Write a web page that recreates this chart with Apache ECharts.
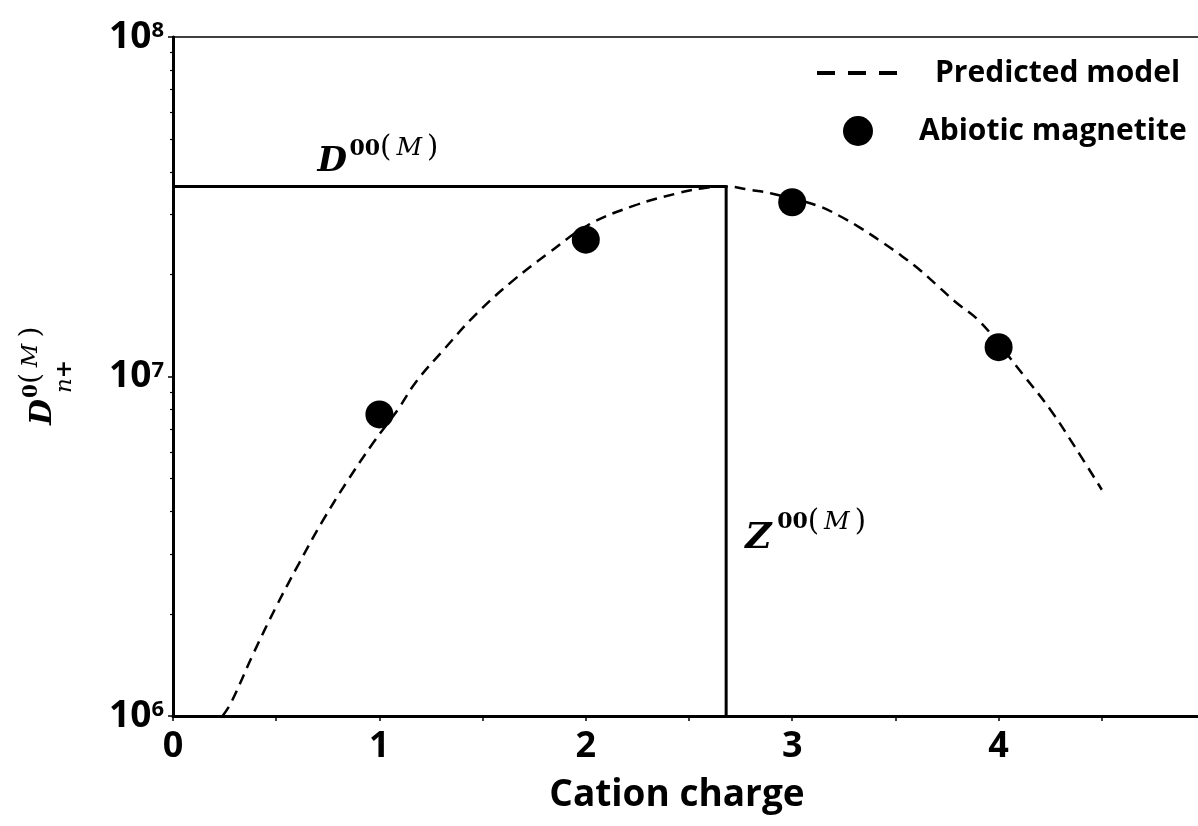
<!DOCTYPE html>
<html><head><meta charset="utf-8">
<script src="https://cdn.jsdelivr.net/npm/echarts@6/dist/echarts.min.js"></script>
<style>html,body{margin:0;padding:0;background:#fff}#c{width:1198px;height:826px}</style>
</head><body><div id="c"></div>
<script>
// ---- data ----
const modelX = [0.24, 0.28, 0.39, 0.50, 0.61, 0.72, 0.84, 0.97, 1.09, 1.18, 1.32, 1.47, 1.64, 1.82, 2.01, 2.23, 2.44, 2.56, 2.68, 2.79, 2.90, 3.12, 3.23, 3.33, 3.43, 3.52, 3.61, 3.70, 3.79, 3.90, 4.00, 4.12, 4.25, 4.37, 4.50];
const modelY = [1.00e6, 1.09e6, 1.53e6, 2.10e6, 2.81e6, 3.71e6, 4.87e6, 6.38e6, 8.00e6, 9.69e6, 1.215e7, 1.53e7, 1.90e7, 2.31e7, 2.79e7, 3.18e7, 3.46e7, 3.58e7, 3.63e7, 3.55e7, 3.46e7, 3.19e7, 2.97e7, 2.74e7, 2.50e7, 2.29e7, 2.08e7, 1.86e7, 1.66e7, 1.47e7, 1.25e7, 1.01e7, 8.00e6, 6.20e6, 4.64e6];
const pointX = [1, 2, 3, 4];
const pointY = [7.73e6, 2.53e7, 3.26e7, 1.22e7];
const peakX = 2.68;
const peakY = 3.63e7;
const xTickLabels = ['0', '1', '2', '3', '4'];
const yMinorTicks = [2e6, 3e6, 4e6, 5e6, 6e6, 7e6, 8e6, 9e6, 2e7, 3e7, 4e7, 5e7, 6e7, 7e7, 8e7, 9e7];
const seriesNames = ['Predicted model', 'Abiotic magnetite'];
const xName = 'Cation charge';

const SANS = '"Open Sans", "Noto Sans", sans-serif';
const SERIF = '"DejaVu Serif", "Liberation Serif", serif';

const chart = echarts.init(document.getElementById('c'), null, {renderer: 'canvas'});

const option = {
  animation: false,
  backgroundColor: '#fff',
  grid: {
    left: 173, top: 37, right: -7, bottom: 110,
    show: true, borderColor: '#000', borderWidth: 1.5,
    outerBoundsMode: 'none', containLabel: false
  },
  legend: {
    orient: 'vertical', left: 815, top: 58, padding: 0,
    itemWidth: 82, itemHeight: 30, itemGap: 28,
    selectedMode: false,
    textStyle: {fontFamily: SANS, fontSize: 30, fontWeight: 'bold', color: '#000'},
    data: [
      {name: seriesNames[0], lineStyle: {type: [18, 13], width: 4, color: '#000'},
       itemStyle: {color: 'rgba(0,0,0,0)', borderWidth: 0, opacity: 0},
       textStyle: {padding: [0, 0, 0, 31]}},
      {name: seriesNames[1], icon: 'circle', itemStyle: {color: '#000', opacity: 1}, textStyle: {padding: [0, 0, 0, 15]}}
    ]
  },
  xAxis: {
    type: 'value', min: 0, max: 5, interval: 0.5,
    name: xName, nameLocation: 'middle', nameGap: 61,
    nameTextStyle: {fontFamily: SANS, fontSize: 37, fontWeight: 'bold', color: '#000', padding: [0, 24, 0, 0]},
    axisLine: {show: true, onZero: false, lineStyle: {color: '#000', width: 3}},
    axisTick: {show: true, inside: false, length: 5, lineStyle: {color: '#000', width: 1.5}},
    axisLabel: {
      margin: 13, color: '#000', fontFamily: SANS, fontSize: 36, fontWeight: 'bold',
      formatter: v => (Number.isInteger(v) && xTickLabels[v] !== undefined) ? xTickLabels[v] : ''
    },
    splitLine: {show: false}
  },
  yAxis: [
    {
      type: 'log', logBase: 10, min: 1e6, max: 1e8,
      axisLine: {show: true, onZero: false, lineStyle: {color: '#000', width: 3}},
      axisTick: {show: true, inside: false, length: 5, lineStyle: {color: '#000', width: 1.5}},
      axisLabel: {
        margin: 9, color: '#000',
        formatter: v => '{b|10}{s|' + Math.round(Math.log10(v)) + '}',
        rich: {
          b: {fontFamily: SANS, fontSize: 37, fontWeight: 'bold', color: '#000', lineHeight: 42},
          s: {fontFamily: SANS, fontSize: 22, fontWeight: 'bold', color: '#000', lineHeight: 22, padding: [0, 0, 12, 0]}
        }
      },
      splitLine: {show: false}
    },
    {
      type: 'log', logBase: 10, min: 1e6, max: 1e8, position: 'left', offset: 0,
      axisLine: {show: false},
      axisTick: {show: true, inside: false, length: 3, customValues: yMinorTicks, lineStyle: {color: '#000', width: 1.2}},
      axisLabel: {show: false},
      splitLine: {show: false}
    }
  ],
  series: [
    {
      name: seriesNames[0], type: 'line', smooth: 0.4, symbol: 'none',
      data: modelX.map((x, i) => [x, modelY[i]]),
      lineStyle: {color: '#000', width: 2.5, type: [11, 7]},
      itemStyle: {color: '#000'}, z: 2
    },
    {
      name: seriesNames[1], type: 'scatter', symbol: 'circle', symbolSize: 28,
      data: pointX.map((x, i) => [x, pointY[i]]),
      itemStyle: {color: '#000', opacity: 1}, z: 4
    },
    {
      name: 'ref', type: 'line', symbol: 'none', silent: true,
      data: [[0, peakY], [peakX, peakY], [peakX, 1e6]],
      lineStyle: {color: '#000', width: 3, type: 'solid'}, z: 3
    }
  ]
};
chart.setOption(option);

// ---- annotation texts, anchored through the chart's own scales ----
const pk = chart.convertToPixel({seriesIndex: 0}, [peakX, peakY]);
const dAnchor = chart.convertToPixel({seriesIndex: 0}, [0.70, peakY]);
const zAnchor = chart.convertToPixel({seriesIndex: 0}, [peakX, 3.32e6]);

function supRich(digitSize, parenSize, mSize, mPad, digits) {
  return {
    text: '{z|' + digits + '}{p|(}{m|M}{p|)}',
    rich: {
      z: {fontFamily: SERIF, fontWeight: 'bold', fontSize: digitSize, fill: '#000', color: '#000'},
      p: {fontFamily: SERIF, fontSize: parenSize, fill: '#000', color: '#000'},
      m: {fontFamily: SERIF, fontStyle: 'italic', fontSize: mSize, fill: '#000', color: '#000', padding: [0, mPad, 0, mPad]}
    }
  };
}
function txt(x, y, style) {
  return {type: 'text', x: x, y: y, silent: true,
    style: Object.assign({fill: '#000', align: 'left', verticalAlign: 'middle', textAlign: 'left', textVerticalAlign: 'middle'}, style)};
}

const dX = dAnchor[0];
const dY = pk[1] - 24.5;
const zX = pk[0] + 19;
const zY = zAnchor[1];

chart.setOption({
  graphic: [
    txt(dX, dY, {text: 'D', fontFamily: SERIF, fontWeight: 'bold', fontStyle: 'italic', fontSize: 34}),
    txt(dX + 32, dY - 13, supRich(22, 29, 25, 5, '00')),
    txt(zX, zY, {text: 'Z', fontFamily: SERIF, fontWeight: 'bold', fontStyle: 'italic', fontSize: 36}),
    txt(zX + 32, zY - 17, supRich(22, 29, 25, 5, '00')),
    {
      type: 'group', x: 53, y: 425, rotation: Math.PI / 2, silent: true,
      children: [
        txt(0, -10, {text: 'D', fontFamily: SERIF, fontWeight: 'bold', fontStyle: 'italic', fontSize: 30}),
        txt(27, -21.5, supRich(20, 28, 23, 6, '0')),
        txt(32, 12, {
          text: '{n|n}{q|+}',
          rich: {
            n: {fontFamily: SERIF, fontStyle: 'italic', fontSize: 23, fill: '#000', color: '#000'},
            q: {fontFamily: SERIF, fontWeight: 'bold', fontSize: 22, fill: '#000', color: '#000'}
          }
        })
      ]
    }
  ]
});
</script>
</body></html>
